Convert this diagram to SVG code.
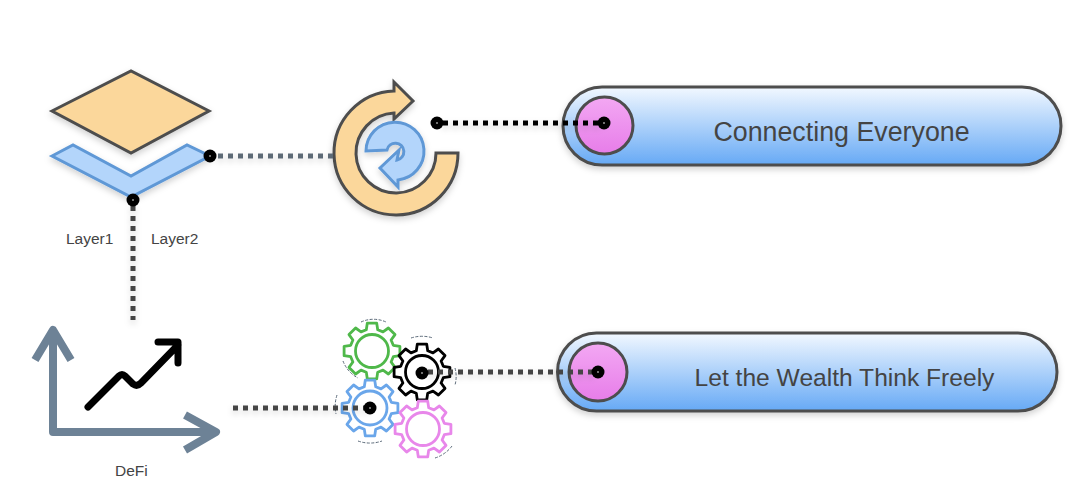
<svg xmlns="http://www.w3.org/2000/svg" width="1086" height="498" viewBox="0 0 1086 498">
<style>
text{font-family:"Liberation Sans",Arial,sans-serif;fill:#444}
.lbl{font-size:15.500px}
.c{fill:none;stroke-width:5;stroke-dasharray:5 5}
.dot{fill:#000;stroke:none}
.pin{fill:#fff}
.gear{fill:none;stroke-width:2.800;stroke-linejoin:round}
.arc{fill:none;stroke:#5c6b7a;stroke-width:1;stroke-dasharray:3 1.500}
.pill{fill:url(#pg);stroke:#4d4d4d;stroke-width:3;filter:url(#sh)}
.knob{fill:url(#kg);stroke:#4d4d4d;stroke-width:3}
.or{fill:#fbd79b;stroke:#4d4d4d;stroke-width:3}
.bl{fill:#b3d5fb;stroke:#5f98d6;stroke-width:3}
</style>
<defs>
<linearGradient id="pg" x1="0" y1="0" x2="0" y2="1"><stop offset="0" stop-color="#f2f8ff"/><stop offset="1" stop-color="#66a9f5"/></linearGradient>
<linearGradient id="kg" x1="0" y1="0" x2="0" y2="1"><stop offset="0" stop-color="#f3a8f3"/><stop offset="1" stop-color="#e77de9"/></linearGradient>
<filter id="sh" x="-20%" y="-20%" width="140%" height="150%"><feDropShadow dx="0" dy="3" stdDeviation="3" flood-color="#000" flood-opacity="0.18"/></filter>
<path id="g" d="M21.300-5.700L27.900-4.700V4.700L21.300,5.700L19.100,11L23,16.400L16.400,23L11,19.100L5.700,21.300L4.700,27.900H-4.700L-5.700,21.300L-11,19.100L-16.400,23L-23,16.400L-19.100,11L-21.300,5.700L-27.900,4.700V-4.700L-21.300-5.700L-19.100-11L-23-16.400L-16.400-23L-11-19.100L-5.700-21.300L-4.700-27.900H4.700L5.700-21.300L11-19.100L16.400-23L23-16.400L19.100-11Z"/>
</defs>
<rect width="1086" height="498" fill="#fff"/>
<g id="layers">
<path class="or" filter="url(#sh)" d="M52,111L131,71L209,111L131,153Z"/>
<path class="bl" filter="url(#sh)" d="M52,156L73,145L131,176L187,145L210,156L131,197Z"/>
<text class="lbl" x="66" y="244">Layer1</text>
<text class="lbl" x="151" y="244">Layer2</text>
</g>
<g id="cycle" filter="url(#sh)">
<path class="or" d="M458,153A62,62 0 1 1 394,91L394,82L413,101L394,119L394,113A40,40 0 1 0 436,153Z"/>
<path class="bl" d="M366,151A29,29 0 1 1 398,180L398,187L380,168L399,150L397,160A8.500,8.500 0 1 0 387,150Z"/>
</g>
<g id="defi">
<path fill="none" stroke="#6d8296" stroke-width="8" stroke-linejoin="round" d="M35,360L53,330L71,360M53,330V432H216M185,415L216,432L185,450"/>
<path fill="none" stroke="#000" stroke-width="7" stroke-linecap="round" stroke-linejoin="round" d="M88,407L119,376Q122,373 125,376L133,384Q137,387 141,383L178,345M158,342H178V363"/>
<text class="lbl" x="115" y="476">DeFi</text>
</g>
<g id="gears">
<g stroke="#4fb84a" class="gear" transform="translate(372,351)"><use href="#g"/><circle r="16.500"/></g>
<g stroke="#000" class="gear" transform="translate(422,372)"><use href="#g"/><circle r="16.500"/></g>
<g stroke="#6aa6ea" class="gear" transform="translate(370,408)"><use href="#g"/><circle r="17"/></g>
<g stroke="#e887ea" class="gear" transform="translate(423,429)"><use href="#g"/><circle r="16.500"/></g>
<path class="arc" d="M361,322A30,30 0 0 1 386,322M343,361A32,32 0 0 0 358,378M411,338A36,36 0 0 1 433,338M455,368A32,32 0 0 1 455,385M358,441A36,36 0 0 0 382,441M435,458A34,34 0 0 0 452,446M337,395A36,36 0 0 0 336,414"/>
</g>
<g id="pill1">
<rect class="pill" x="563" y="87" width="498" height="78" rx="39"/>
<circle class="knob" cx="604.500" cy="125.500" r="28.500"/>
<text x="841.500" y="141" text-anchor="middle" style="font-size:26.800px">Connecting Everyone</text>
</g>
<g id="pill2">
<rect class="pill" x="557.500" y="333" width="499.500" height="78" rx="39"/>
<circle class="knob" cx="598" cy="372" r="29"/>
<text x="844.500" y="386" text-anchor="middle" style="font-size:24.600px">Let the Wealth Think Freely</text>
</g>
<g id="connectors" filter="url(#sh)">
<path class="c" stroke="#5d6b76" d="M218,156H333"/>
<path class="c" stroke="#444" d="M133,206V320"/>
<path class="c" stroke="#000" d="M443,123H604"/>
<path class="c" stroke="#444" d="M233,408H370"/>
<path class="c" stroke="#444" d="M428,372H598"/>
</g>
<g id="endpoints">
<circle class="dot" cx="210" cy="156" r="6.500"/><circle class="pin" cx="210" cy="156" r="0.800"/>
<circle class="dot" cx="133" cy="200" r="6.500"/><circle class="pin" cx="133" cy="200" r="0.800"/>
<circle class="dot" cx="437" cy="123" r="6.500"/><circle class="pin" cx="437" cy="123" r="0.800"/>
<circle class="dot" cx="604" cy="123" r="6.500"/><circle class="pin" cx="604" cy="123" r="0.800"/>
<circle class="dot" cx="370" cy="408" r="6.500"/><circle class="pin" cx="370" cy="408" r="0.800"/>
<circle class="dot" cx="422" cy="373" r="6.500"/><circle class="pin" cx="422" cy="373" r="0.800"/>
<circle class="dot" cx="598" cy="372" r="6.500"/><circle class="pin" cx="598" cy="372" r="0.800"/>
</g>
</svg>
